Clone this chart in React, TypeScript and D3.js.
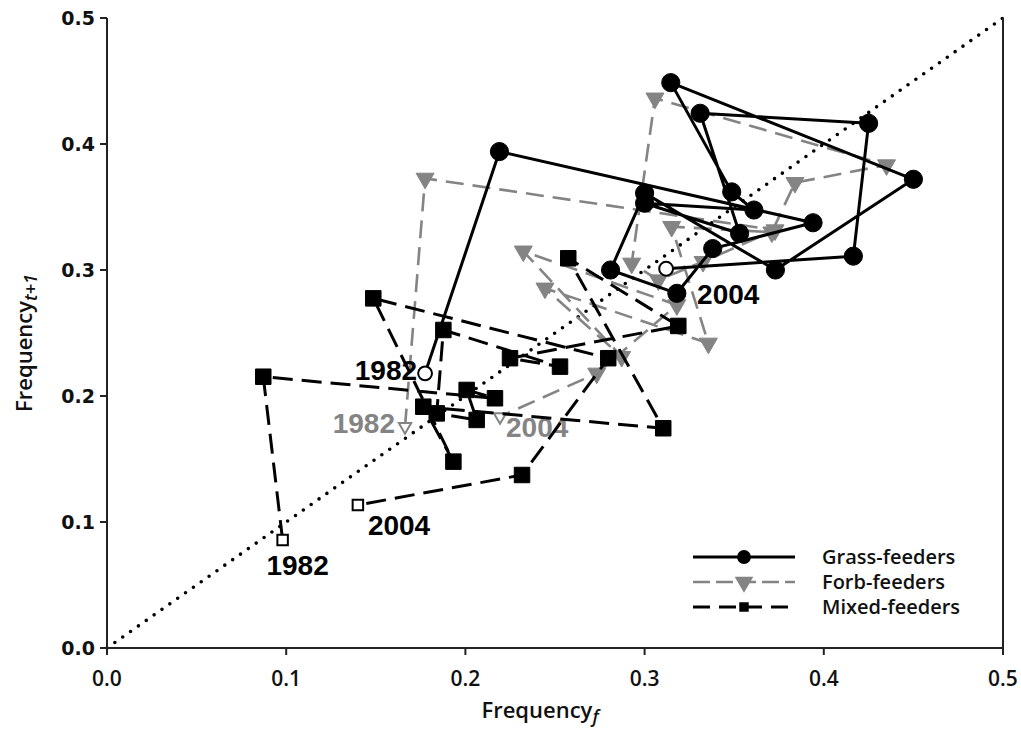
import * as d3 from "d3";

// points are (frequency in year t, frequency in year t+1), in time order 1982 -> 2004
const grassX = [0.1775, 0.219, 0.394, 0.338, 0.318, 0.281, 0.3, 0.373, 0.45, 0.3146, 0.3486, 0.361, 0.3, 0.353, 0.331, 0.425, 0.4165, 0.312];
const grassY = [0.218, 0.394, 0.3375, 0.317, 0.2815, 0.3, 0.361, 0.3, 0.372, 0.4487, 0.362, 0.3476, 0.353, 0.329, 0.4244, 0.4164, 0.311, 0.301];

const forbX = [0.1663, 0.1775, 0.3728, 0.3326, 0.3077, 0.2928, 0.3058, 0.435, 0.3839, 0.371, 0.3151, 0.3356, 0.2444, 0.2872, 0.2323, 0.318, 0.2733, 0.2193];
const forbY = [0.1757, 0.3727, 0.3317, 0.3066, 0.292, 0.3053, 0.4363, 0.3833, 0.3693, 0.33, 0.3344, 0.2418, 0.2855, 0.2312, 0.3149, 0.2722, 0.218, 0.1836];

const mixedX = [0.098, 0.0872, 0.2165, 0.2007, 0.2063, 0.184, 0.1877, 0.2528, 0.2249, 0.3188, 0.2574, 0.3104, 0.1765, 0.1933, 0.1486, 0.2797, 0.2316, 0.14];
const mixedY = [0.0857, 0.2153, 0.1982, 0.2048, 0.181, 0.1862, 0.2524, 0.2233, 0.23, 0.2556, 0.3093, 0.1744, 0.1915, 0.1479, 0.2775, 0.23, 0.1373, 0.1135];

const seriesNames = ["Grass-feeders", "Forb-feeders", "Mixed-feeders"];
const firstYear = "1982";
const lastYear = "2004";

const xTicks = [0, 0.1, 0.2, 0.3, 0.4, 0.5];
const yTicks = [0, 0.1, 0.2, 0.3, 0.4, 0.5];

export default function App() {
  const width = 1021;
  const height = 729;
  const margin = { top: 18, right: 18, bottom: 81, left: 107 };

  const x = d3.scaleLinear().domain([0, 0.5]).range([margin.left, width - margin.right]);
  const y = d3.scaleLinear().domain([0, 0.5]).range([height - margin.bottom, margin.top]);

  const line = d3.line<[number, number]>()
    .x(d => x(d[0]))
    .y(d => y(d[1]));

  const gray = "#848484";

  // styles per series, drawn back to front
  const series = [
    {
      name: seriesNames[1], xs: forbX, ys: forbY, color: gray, dash: "18 9", width: 2.6,
      symbol: d3.symbolTriangle, size: 140, openSize: 65, rotate: 180,
      labels: [
        { which: 0, text: firstYear, dx: -10, dy: 6, anchor: "end" },
        { which: 1, text: lastYear, dx: 6, dy: 20, anchor: "start" },
      ],
    },
    {
      name: seriesNames[2], xs: mixedX, ys: mixedY, color: "#000", dash: "20 9", width: 3,
      symbol: d3.symbolSquare, size: 240, openSize: 110, rotate: 0,
      labels: [
        { which: 0, text: firstYear, dx: 15, dy: 35, anchor: "middle" },
        { which: 1, text: lastYear, dx: 10, dy: 30, anchor: "start" },
      ],
    },
    {
      name: seriesNames[0], xs: grassX, ys: grassY, color: "#000", dash: null, width: 3,
      symbol: d3.symbolCircle, size: 260, openSize: 150, rotate: 0,
      labels: [
        { which: 0, text: firstYear, dx: -8, dy: 7, anchor: "end" },
        { which: 1, text: lastYear, dx: 31, dy: 35, anchor: "start" },
      ],
    },
  ];

  const bottom = height - margin.bottom;
  const right = width - margin.right;
  const tickFont = "'DejaVu Sans', sans-serif";
  const labelFont = "'Open Sans', sans-serif";

  const legendItems = [series[2], series[0], series[1]];

  return (
    <svg width={width} height={height} style={{ position: "absolute", left: 0, top: 0, background: "#fff" }}>
      {/* 1:1 line */}
      <line x1={x(0)} y1={y(0)} x2={x(0.5)} y2={y(0.5)}
        stroke="#000" strokeWidth={3.6} strokeDasharray="0 9.6" strokeLinecap="round" />

      {series.map(s => {
        const pts = s.xs.map((v, i) => [v, s.ys[i]] as [number, number]);
        return (
          <g key={s.name}>
            <path d={line(pts) ?? ""} fill="none" stroke={s.color} strokeWidth={s.width}
              strokeDasharray={s.dash ?? undefined} strokeLinejoin="round" />
            {pts.map((p, i) => {
              const open = i === 0 || i === pts.length - 1;
              const sym = d3.symbol(s.symbol, open ? s.openSize : s.size)();
              return (
                <path key={i} d={sym ?? ""}
                  transform={`translate(${x(p[0])},${y(p[1])}) rotate(${s.rotate})`}
                  fill={open ? "#fff" : s.color} stroke={s.color} strokeWidth={open ? 2 : 1} />
              );
            })}
            {s.labels.map(l => {
              const i = l.which === 0 ? 0 : pts.length - 1;
              return (
                <text key={l.text} x={x(pts[i][0]) + l.dx} y={y(pts[i][1]) + l.dy}
                  textAnchor={l.anchor} fontFamily="'Liberation Sans', Arial, sans-serif"
                  fontWeight="bold" fontSize={28} fill={s.color}>{l.text}</text>
              );
            })}
          </g>
        );
      })}

      {/* axes frame */}
      <line x1={margin.left} y1={margin.top} x2={margin.left} y2={bottom} stroke="#222" strokeWidth={2} />
      <line x1={margin.left} y1={bottom} x2={right} y2={bottom} stroke="#222" strokeWidth={2} />
      <line x1={right} y1={margin.top} x2={right} y2={bottom} stroke="#222" strokeWidth={2} />

      {yTicks.map(t => (
        <g key={"y" + t}>
          <line x1={margin.left - 7} x2={margin.left} y1={y(t)} y2={y(t)} stroke="#222" strokeWidth={2} />
          <text x={margin.left - 12} y={y(t)} dy="0.36em" textAnchor="end" fontFamily={tickFont}
            fontWeight="bold" fontSize={19} fill="#111">{t.toFixed(1)}</text>
        </g>
      ))}
      {xTicks.map(t => (
        <g key={"x" + t}>
          <line x1={x(t)} x2={x(t)} y1={bottom} y2={bottom + 7} stroke="#222" strokeWidth={2} />
          <text x={x(t)} y={bottom + 38} textAnchor="middle" fontFamily={labelFont}
            fontWeight={600} fontSize={21} fill="#111">{t.toFixed(1)}</text>
        </g>
      ))}

      <text x={540} y={718} textAnchor="middle" fontFamily={labelFont} fontWeight={600} fontSize={22} fill="#111">
        Frequency<tspan fontStyle="italic" fontSize={18} dy={5}>f</tspan>
      </text>
      <text transform={`translate(32,${(margin.top + bottom) / 2 + 10}) rotate(-90)`} textAnchor="middle"
        fontFamily={labelFont} fontWeight={600} fontSize={22} fill="#111">
        Frequency<tspan fontStyle="italic" fontSize={18} dy={5}>t+1</tspan>
      </text>

      {/* legend */}
      {legendItems.map((s, i) => {
        const ly = 557 + i * 25;
        const sym = d3.symbol(s.symbol, s === series[1] ? 90 : 150)();
        return (
          <g key={"leg" + s.name}>
            <line x1={693} x2={795} y1={ly} y2={ly} stroke={s.color} strokeWidth={s.width}
              strokeDasharray={s.dash ? (s === series[1] ? "17 9" : "17 6") : undefined} />
            <path d={sym ?? ""} transform={`translate(744,${ly}) rotate(${s.rotate})`} fill={s.color} />
            <text x={822} y={ly} dy="0.35em" fontFamily={labelFont} fontWeight={600} fontSize={20} fill="#111">
              {s.name}
            </text>
          </g>
        );
      })}
    </svg>
  );
}
